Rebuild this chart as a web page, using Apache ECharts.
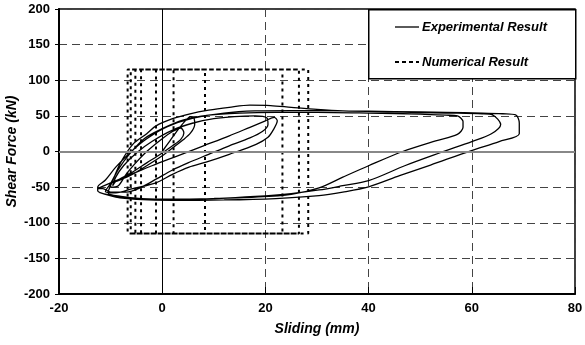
<!DOCTYPE html>
<html>
<head>
<meta charset="utf-8">
<script src="https://cdn.jsdelivr.net/npm/echarts@6/dist/echarts.min.js"></script>
<style>
    html, body { margin: 0; padding: 0; background: #fff; }
    #graph1 { width: 585px; height: 345px; }
</style>
</head>
<body>
<div id="graph1"></div>
<script>
const xTicks = [-20, 0, 20, 40, 60, 80];
const yTicks = [-200, -150, -100, -50, 0, 50, 100, 150, 200];
const legendNames = ['Experimental Result', 'Numerical Result'];

// experimental loops (sliding mm / shear force kN) in cycle order
const expSliding = [
    0, 1.5, 3, 4.6, 5.5, 6.2, 6.3, 5.5, 4, 2, 0, -3, -6, -8.5, -10, -10, -8.5, -7, -5, -3, 0, 2, 3.6,
    4.2, 3.6, 2, 0, -3, -6, -9, -9.6,
    -9, -7.5, -5, -2, 2, 6, 10, 14, 18, 20.3, 20.5, 19.4, 17, 13, 9, 5, 2, -1, -4, -7, -10, -11.5,
    -12.5, -10, -6, -2, 3, 8, 13, 17, 20, 21.7, 22.3, 21.5, 20.5, 18.2, 13, 8.5, 5.2, 2, -1.2, -5.7, -9, -11,
    -10, -8.5, -6.5, -3.5, 0, 4, 9, 15, 22, 30, 40, 50, 55, 57.2, 58.3, 58.3, 57.2, 53, 46.6, 40, 35, 30.4, 25, 18, 10, 2, -4, -8, -10.5,
    -9.6, -8, -5.7, -3, -1.2, 2, 5.2, 9, 13, 17, 21, 25, 30, 35, 45, 55, 62, 64, 65.6, 63.8, 60, 54, 47, 40, 35, 30.4, 25, 18, 10, 3, -3, -8, -11, -12.5,
    -12.5, -11, -9, -6, -3, 1, 6, 12, 18, 25, 35, 45, 55, 62, 66, 68.5, 69.2, 69.2, 65.3, 59.8, 52, 46, 40, 35, 30.4, 22, 12, 2, -5, -9, -12.2,
];
const expForce = [
    0, 15, 30, 44, 49, 46, 38, 26, 16, 5, -6, -20, -33, -41, -45, -50, -48, -32, -15, 0, 18, 28, 33,
    26, 17, 8, -2, -16, -30, -42, -48,
    -36, -20, -2, 14, 30, 40, 46, 49, 50, 47, 38, 28, 19, 8, -4, -16, -26, -38, -50, -57, -57, -52,
    -52, -44, -32, -20, -6, 8, 22, 34, 43, 48, 43, 30, 20, 10, -4, -15, -22, -32, -44, -52, -58, -56,
    -45, -25, -5, 18, 32, 44, 51, 54, 55, 55, 54, 52.5, 51, 50, 42, 34, 24, 15, 0, -20, -36, -51, -60, -64, -66, -67, -66, -63, -58,
    -41, -15, 10, 25, 36, 46, 52.5, 58, 62, 65, 64.5, 62, 59, 57, 55.5, 54, 53, 51.5, 38, 25, 14, -1.4, -20, -41, -48, -54, -59, -63, -66, -67.5, -67, -64, -60, -55,
    -50, -40, -22, 0, 18, 35, 47, 54, 57, 57.5, 57, 56, 55, 54, 53, 51.5, 40, 25, 14, 1, -19, -34, -49.6, -57, -62, -66, -68, -68.5, -67, -64, -57.5,
];

// numerical result: rigid-plastic rectangles at +/-115 kN
const numSliding = [
    -1.2, -1.2, 2.2, 2.2, -4.1, -4.1, 8.3, 8.3, -5.2, -5.2, 23.3, 23.3, -6.1, -6.1, 26.5, 26.5, -6.7, -6.7, 28.3, 28.3, -5.8,
];
const numForce = [
    -115, 115, 115, -115, -115, 115, 115, -115, -115, 115, 115, -115, -115, 115, 115, -115, -115, 115, 115, -115, -115,
];

const expData = expSliding.map((x, i) => [x, expForce[i]]);
const numData = numSliding.map((x, i) => [x, numForce[i]]);

const fontFamily = 'Liberation Sans, Arial, sans-serif';
const legendStyle = {
    fontFamily: fontFamily,
    fontSize: 13,
    fontWeight: 'bold',
    fontStyle: 'italic',
    fill: '#000',
};

const myChart1 = echarts.init(document.getElementById('graph1'));
const option1 = {
    animation: false,
    backgroundColor: '#fff',
    grid: {
        left: 59,
        right: 10,
        top: 9,
        bottom: 51,
        outerBoundsMode: 'none',
        show: true,
        borderColor: '#000',
        borderWidth: 1.5,
    },
    // legend box drawn by hand so the keys are plain line samples
    graphic: [
        {
            type: 'rect',
            left: 368,
            top: 9,
            z: 5,
            shape: { width: 207, height: 69 },
            style: { fill: '#fff', stroke: '#000', lineWidth: 1.5 },
        },
        {
            type: 'line',
            z: 6,
            shape: { x1: 395, y1: 27, x2: 419, y2: 27 },
            style: { stroke: '#000', lineWidth: 1.3 },
        },
        {
            type: 'text',
            z: 6,
            x: 422,
            y: 27,
            style: Object.assign({ text: legendNames[0], verticalAlign: 'middle' }, legendStyle),
        },
        {
            type: 'line',
            z: 6,
            shape: { x1: 395, y1: 62, x2: 419, y2: 62 },
            style: { stroke: '#000', lineWidth: 2, lineDash: [4, 3] },
        },
        {
            type: 'text',
            z: 6,
            x: 422,
            y: 62,
            style: Object.assign({ text: legendNames[1], verticalAlign: 'middle' }, legendStyle),
        },
    ],
    xAxis: {
        type: 'value',
        min: -20,
        max: 80,
        interval: 20,
        name: 'Sliding (mm)',
        nameLocation: 'middle',
        nameGap: 28,
        nameMoveOverlap: false,
        nameTextStyle: {
            fontFamily: fontFamily,
            fontSize: 14,
            fontWeight: 'bold',
            fontStyle: 'italic',
            color: '#000',
        },
        axisLine: { onZero: false, lineStyle: { color: '#000', width: 2 } },
        axisTick: { inside: true, length: 7, lineStyle: { color: '#000', width: 1 } },
        axisLabel: {
            margin: 8,
            fontFamily: fontFamily,
            fontSize: 13,
            fontWeight: 'bold',
            color: '#000',
            formatter: v => (xTicks.includes(v) ? String(v) : ''),
        },
        splitLine: {
            show: true,
            lineStyle: { color: '#444', width: 1, type: [8, 5] },
        },
    },
    yAxis: {
        type: 'value',
        min: -200,
        max: 200,
        interval: 50,
        name: 'Shear Force (kN)',
        nameLocation: 'middle',
        nameGap: 40,
        nameMoveOverlap: false,
        nameTextStyle: {
            fontFamily: fontFamily,
            fontSize: 14,
            fontWeight: 'bold',
            fontStyle: 'italic',
            color: '#000',
        },
        axisLine: { onZero: false, lineStyle: { color: '#000', width: 2 } },
        axisTick: { inside: false, length: 4, lineStyle: { color: '#000', width: 1 } },
        axisLabel: {
            margin: 9,
            fontFamily: fontFamily,
            fontSize: 13,
            fontWeight: 'bold',
            color: '#000',
            formatter: v => (yTicks.includes(v) ? String(v) : ''),
        },
        splitLine: {
            show: true,
            lineStyle: { color: '#444', width: 1, type: [8, 5] },
        },
    },
    series: [
        {
            name: 'zero lines',
            type: 'line',
            data: [],
            z: 1,
            silent: true,
            markLine: {
                silent: true,
                symbol: 'none',
                label: { show: false },
                data: [
                    { xAxis: 0, lineStyle: { color: '#000', width: 1, type: 'solid' } },
                    { yAxis: 0, lineStyle: { color: '#888', width: 2, type: 'solid' } },
                ],
            },
        },
        {
            name: legendNames[0],
            type: 'line',
            z: 3,
            symbol: 'none',
            smooth: 0.3,
            lineStyle: { color: '#000', width: 1.3, type: 'solid' },
            data: expData,
        },
        {
            name: legendNames[1],
            type: 'line',
            z: 2,
            symbol: 'none',
            lineStyle: { color: '#000', width: 2, type: [3, 4] },
            data: numData,
        },
    ],
};
myChart1.setOption(option1);
window.addEventListener('resize', myChart1.resize);
</script>
</body>
</html>
